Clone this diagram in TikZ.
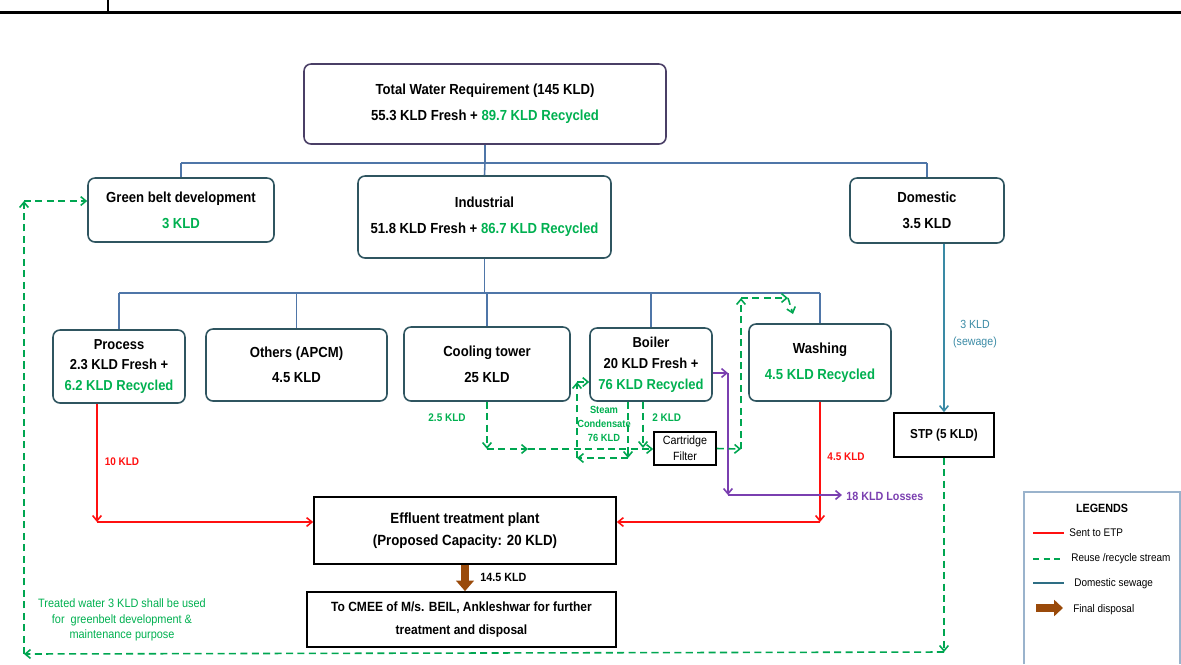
\documentclass[tikz,border=0pt]{standalone}
\usepackage{fontspec}
\setmainfont{Liberation Sans}[FakeStretch=0.9]
\usetikzlibrary{arrows.meta}
\definecolor{gtx}{HTML}{00B050}
\definecolor{gdash}{HTML}{00A651}
\definecolor{bline}{HTML}{4F76A8}
\definecolor{bbord}{HTML}{2F5560}
\definecolor{tbord}{HTML}{4A3F66}
\definecolor{rline}{HTML}{FF1010}
\definecolor{pline}{HTML}{7A3FB0}
\definecolor{teal2}{HTML}{3A8AA5}
\definecolor{brown2}{HTML}{9A4A0A}
\definecolor{legb}{HTML}{9AB3CC}
\newcommand\fs[2]{\fontsize{#1}{#2}\selectfont}
\newcommand\bx[7]{\node[#6, minimum width={(#4-#2)*0.02cm}, minimum height={(#5-#3)*0.02cm}] (#1) at ({(#2+#4)/2},{(#3+#5)/2}) {#7};}
\tikzset{
  rbox/.style={draw=bbord, line width=0.9pt, rounded corners=4pt, inner sep=0pt, align=center, font=\bfseries\fs{8.3}{15}},
  sbox/.style={draw=black, line width=1pt, inner sep=0pt, align=center, font=\bfseries\fs{8.4}{12.5}},
  tree/.style={draw=bline, line width=0.9pt},
  barb/.style={-{Straight Barb[length=3pt,width=5pt]}},
  gd/.style={draw=gdash, line width=0.9pt, dash pattern=on 4pt off 2.5pt, barb},
  rl/.style={draw=rline, line width=0.9pt, barb},
  pl/.style={draw=pline, line width=0.9pt, barb},
  tl/.style={draw=teal2, line width=0.9pt, barb},
  lbl/.style={inner sep=0pt, align=center, font=\bfseries\fs{6.3}{8.5}},
  leg/.style={inner sep=0pt, anchor=west, font=\fs{6.3}{7}},
}
\begin{document}
\begin{tikzpicture}[x=0.02cm,y=-0.02cm]
\useasboundingbox (0,0) rectangle (1181,664);
% header
\draw[line width=1.2pt] (0,12.5) -- (1181,12.5);
\draw[line width=0.9pt] (108,0) -- (108,12.5);
% boxes
\bx{total}{304}{64}{666}{144}{rbox, draw=tbord}{Total Water Requirement (145 KLD)\\55.3 KLD Fresh + \textcolor{gtx}{89.7 KLD Recycled}}
\bx{green}{88}{178}{274}{242}{rbox}{Green belt development\\\textcolor{gtx}{3 KLD}}
\bx{ind}{358}{176}{611}{258}{rbox}{Industrial\\51.8 KLD Fresh + \textcolor{gtx}{86.7 KLD Recycled}}
\bx{dom}{850}{178}{1004}{243}{rbox}{Domestic\\3.5 KLD}
\bx{proc}{53}{330}{185}{403}{rbox, font=\bfseries\fs{8.2}{11.5}}{Process\\2.3 KLD Fresh +\\\textcolor{gtx}{6.2 KLD Recycled}}
\bx{oth}{206}{329}{387}{401}{rbox, font=\bfseries\fs{8.3}{14}}{Others (APCM)\\4.5 KLD}
\bx{cool}{404}{327}{570}{401}{rbox}{Cooling tower\\25 KLD}
\bx{boil}{590}{328}{712}{401}{rbox, font=\bfseries\fs{8.2}{12}}{Boiler\\20 KLD Fresh +\\\textcolor{gtx}{76 KLD Recycled}}
\bx{wash}{749}{324}{891}{401}{rbox}{Washing\\\textcolor{gtx}{4.5 KLD Recycled}}
\bx{cf}{654}{432}{716}{465}{sbox, font=\fs{6.8}{9}}{Cartridge\\Filter}
\bx{stp}{894}{413}{994}{457}{sbox, font=\bfseries\fs{7.4}{9}}{STP (5 KLD)}
\bx{etp}{314}{497}{616}{564}{sbox}{Effluent treatment plant\\(Proposed Capacity: 20 KLD)}
\bx{cmee}{307}{592}{616}{647}{sbox, font=\bfseries\fs{7.6}{13}}{To CMEE of M/s. BEIL, Ankleshwar for further\\treatment and disposal}
% top tree
\path (total.south) ++(0,18) coordinate (t1);
\draw[tree] (total.south) -- (t1);
\draw[tree] (t1 -| green.north) -- (t1 -| dom.north);
\draw[tree] (t1 -| green.north) -- (green.north);
\draw[tree] (t1) -- (ind.north);
\draw[tree] (t1 -| dom.north) -- (dom.north);
% industrial tree
\path (ind.south) ++(0,34) coordinate (jI);
\draw[tree] (ind.south) -- (jI);
\draw[tree] (jI -| proc.north) -- (jI -| wash.north);
\foreach \n in {proc,oth,cool,boil,wash} \draw[tree] (jI -| \n.north) -- (\n.north);
% red to ETP
\coordinate (pc) at (97,522);
\draw[rl] (proc.south -| pc) -- (pc);
\draw[rl] (pc) -- (pc -| etp.west);
\coordinate (wc) at (820,522);
\draw[rl] (wash.south) -- (wc);
\draw[rl] (wc) -- (wc -| etp.east);
\node[lbl, text=rline] (l10) at (122,462) {10 KLD};
\node[lbl, text=rline] (l45) at (846,457) {4.5 KLD};
% final disposal
\draw[draw=brown2, line width=5pt, -{Triangle[length=6pt,width=10pt]}] (etp.south) -- (etp.south |- cmee.north);
\node[lbl, font=\bfseries\fs{6.8}{8}, anchor=west] (l145) at (480,577) {14.5 KLD};
% domestic sewage
\draw[tl] (dom.south -| stp.north) -- (stp.north);
\node[lbl, text=teal2, font=\fs{6.7}{9.5}] (lsew) at (975,334) {3 KLD\\(sewage)};
% purple losses
\coordinate (p1) at (728,373);
\coordinate (p2) at (728,495);
\coordinate (p3) at (842,495);
\draw[pl] (boil.east |- p1) -- (p1);
\draw[pl] (p1) -- (p2);
\draw[pl] (p2) -- (p3);
\node[lbl, text=pline, anchor=west, font=\bfseries\fs{6.8}{8}] (lloss) at (846,496) {18 KLD Losses};
% green loop via STP to green belt
\coordinate (g1) at (944,652);
\coordinate (g2) at (24,654);
\coordinate (g3) at (24,201);
\draw[gd] (stp.south) -- (g1);
\draw[gd] (g1) -- (g2);
\draw[gd] (g2) -- (g3);
\draw[gd] (g3) -- (g3 -| green.west);
\node[lbl, text=gtx, font=\fs{6.9}{8.8}] (ltw) at (122,620) {Treated water 3 KLD shall be used\\for\ \ greenbelt development \&\\maintenance purpose};
% cooling tower reuse
\coordinate (c1) at (487,449);
\coordinate (c2) at (528,449);
\draw[gd] (cool.south) -- (c1);
\draw[gd] (c1) -- (c2);
\draw[gd] (c2) -- (c2 -| cf.west);
\node[lbl, text=gtx] (l25) at (447,418) {2.5 KLD};
% steam condensate loop
\coordinate (s1) at (628,458);
\coordinate (s2) at (577,458);
\coordinate (s3) at (577,382);
\draw[gd] (boil.south -| s1) -- (s1);
\draw[gd] (s1) -- (s2);
\draw[gd] (s2) -- (s3);
\draw[gd] (s3) -- (s3 -| boil.west);
\node[lbl, text=gtx, font=\bfseries\fs{5.9}{8}] (lsc) at (604,424) {Steam\\Condensate\\76 KLD};
% 2 KLD to cartridge
\coordinate (k1) at (643,448);
\draw[gd] (boil.south -| k1) -- (k1);
\node[lbl, text=gtx, anchor=west] (l2) at (652,418) {2 KLD};
% cartridge to washing
\coordinate (w1) at (741,449);
\coordinate (w2) at (741,298);
\coordinate (w3) at (788,298);
\coordinate (w4) at (793,314);
\draw[gd] (cf.east) -- (w1);
\draw[gd] (w1) -- (w2);
\draw[gd] (w2) -- (w3);
\draw[gd] (w3) -- (w4);
% legend
\draw[draw=legb, line width=0.8pt] (1024,664) -- (1024,492) -- (1180,492) -- (1180,664);
\node[inner sep=0pt, font=\bfseries\fs{6.8}{8}] (lgt) at (1102,508) {LEGENDS};
\coordinate (la) at (1033,533);
\coordinate (lb) at (1064,533);
\draw[draw=rline, line width=1pt] (la) -- (lb);
\node[leg] (lg1) at (1069,533) {Sent to ETP};
\coordinate (lc) at (1033,559);
\coordinate (ld) at (1064,559);
\draw[draw=gdash, line width=1.2pt, dash pattern=on 3.5pt off 2.5pt] (lc) -- (ld);
\node[leg] (lg2) at (1071,559) {Reuse /recycle stream};
\coordinate (le) at (1033,583);
\coordinate (lf) at (1064,583);
\draw[draw=teal2!80!black, line width=1.2pt] (le) -- (lf);
\node[leg] (lg3) at (1074,584) {Domestic sewage};
\coordinate (lg) at (1036,608);
\coordinate (lh) at (1063,608);
\draw[draw=brown2, line width=5pt, -{Triangle[length=5pt,width=9pt]}] (lg) -- (lh);
\node[leg] (lg4) at (1073,610) {Final disposal};
\end{tikzpicture}
\end{document}
